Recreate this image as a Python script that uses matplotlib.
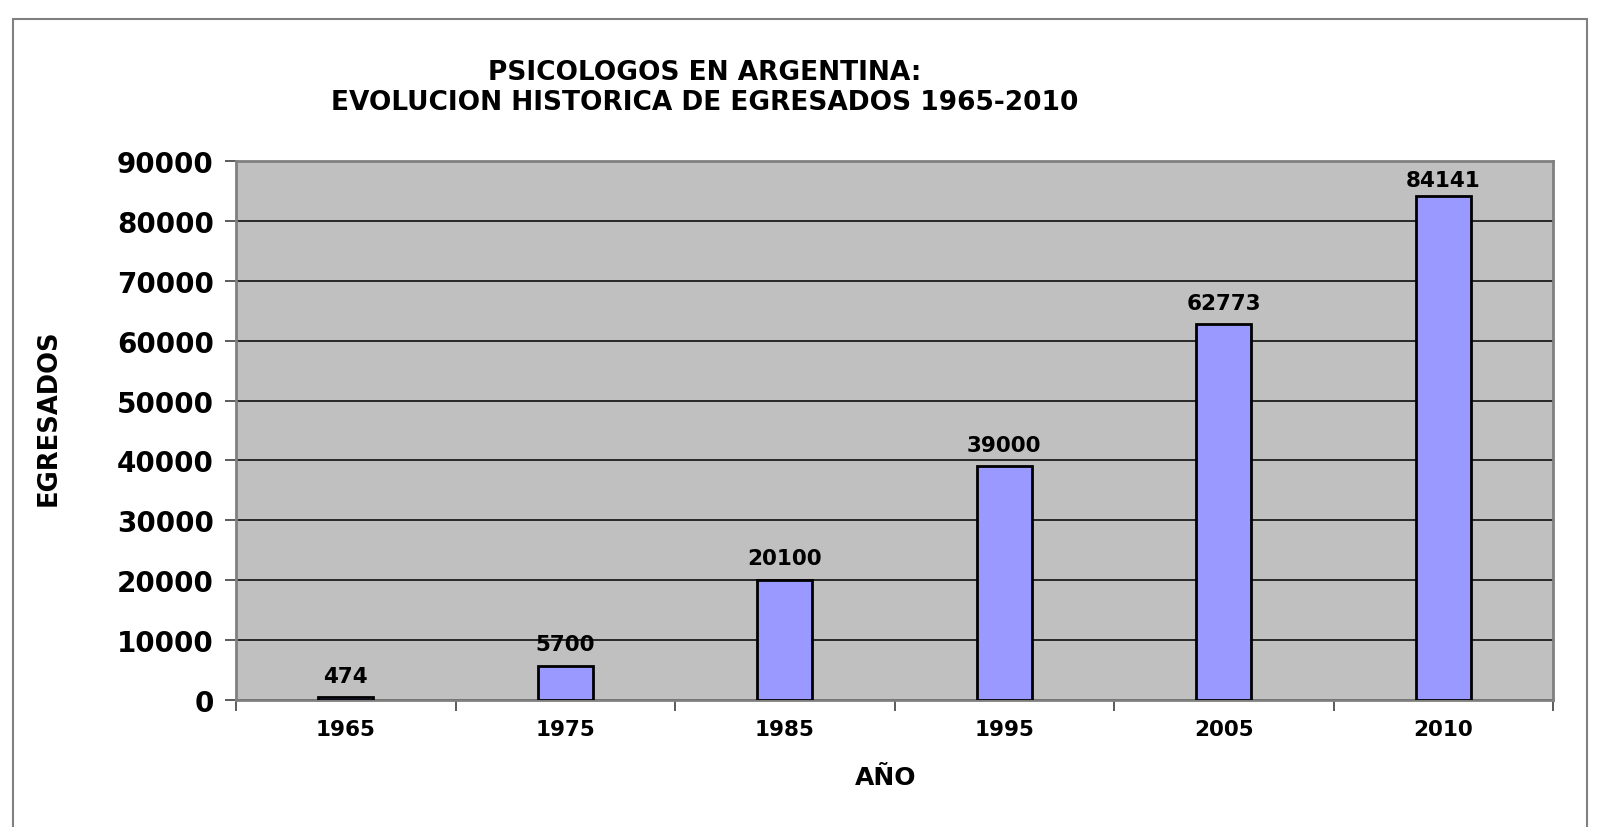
import numpy as np
import matplotlib
matplotlib.use('Agg')
import matplotlib.pyplot as plt
from matplotlib.patches import Rectangle

years = ['1965', '1975', '1985', '1995', '2005', '2010']
egresados = [474, 5700, 20100, 39000, 62773, 84141]
yticks = list(range(0, 90001, 10000))

W, H = 1623, 828
fig = plt.figure(figsize=(W / 100, H / 100), dpi=100)
fig.patch.set_facecolor('white')

# outer chart frame
fig.patches.append(Rectangle((13 / W, -0.01), 1574 / W, 1 - 20 / H + 0.01,
                             transform=fig.transFigure, fill=False,
                             edgecolor='#808080', linewidth=1.5))

ax = fig.add_axes([236 / W, 1 - 701 / H, 1317 / W, 539 / H])
ax.set_facecolor('#C0C0C0')

x = np.arange(len(years))
ax.bar(x, egresados, width=0.25, color='#9999FF', edgecolor='black',
       linewidth=2, zorder=3)
# labels above bars, kept inside the plot area like Excel does
for xi, v in zip(x, egresados):
    ax.text(xi, min(v + 1900, 85100), str(v), ha='center', va='bottom',
            fontsize=15.5, fontweight='bold', zorder=4)

ax.set_xlim(-0.5, len(years) - 0.5)
ax.set_ylim(0, 90000)
ax.set_yticks(yticks)
ax.set_yticklabels([str(t) for t in yticks], fontsize=20, fontweight='bold')
ax.yaxis.grid(True, color='black', linewidth=1.1, zorder=1)
ax.set_axisbelow(True)

ax.set_xticks(x)
ax.set_xticklabels(years, fontsize=15.5, fontweight='bold')
ax.tick_params(axis='x', which='major', length=0, pad=14)
ax.set_xticks(np.arange(-0.5, len(years), 1), minor=True)
ax.tick_params(axis='x', which='minor', length=8, color='#404040', width=1.2)
ax.tick_params(axis='y', length=8, color='#404040', width=1.2, pad=8)

for side in ['top', 'right', 'left', 'bottom']:
    ax.spines[side].set_color('#808080')
    ax.spines[side].set_linewidth(2)

fig.text(886 / W, 1 - 778 / H, 'AÑO', ha='center', va='center',
         fontsize=18, fontweight='bold')
fig.text(49 / W, 1 - 418 / H, 'EGRESADOS', ha='center', va='center',
         rotation=90, fontsize=18.5, fontweight='bold')

fig.text(705 / W, 1 - 88 / H,
         'PSICOLOGOS EN ARGENTINA:\nEVOLUCION HISTORICA DE EGRESADOS 1965-2010',
         ha='center', va='center', fontsize=19, fontweight='bold',
         linespacing=1.2)

fig.savefig('out.png', dpi=100)
